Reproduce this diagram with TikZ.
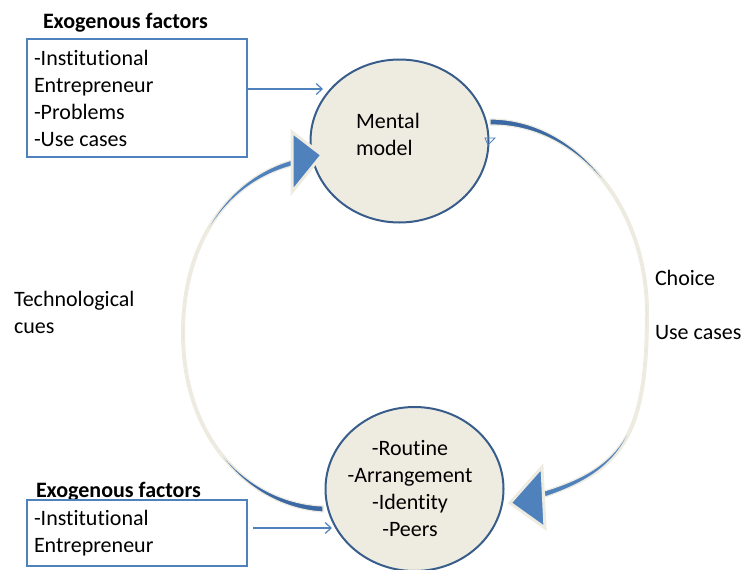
\documentclass[tikz,border=0pt]{standalone}
\usepackage{fontspec}
\setmainfont{Carlito}[Ligatures=NoCommon]
\usetikzlibrary{shapes.geometric,arrows.meta}
\definecolor{cream}{HTML}{EEECE1}
\definecolor{edge}{HTML}{385D8A}
\definecolor{ofblue}{HTML}{4F81BD}
\definecolor{darkband}{HTML}{3C68A4}
\begin{document}
\begin{tikzpicture}[x=1pt,y=-1pt,
  every node/.style={inner sep=0pt, outer sep=0pt},
  txt/.style={font=\fontsize{22}{27}\selectfont, align=left, anchor=base west},
  ctxt/.style={font=\fontsize{22}{27}\selectfont, align=center, anchor=base},
  hdr/.style={font=\fontsize{22}{27}\selectfont\bfseries, anchor=base west},
  box/.style={draw=ofblue, line width=1.2pt, rectangle, anchor=north west},
  oval/.style={ellipse, draw=edge, fill=cream, line width=2pt},
  thinarrow/.style={draw=ofblue, line width=1.2pt, -{Straight Barb[length=6pt,width=11pt]}},
  creamline/.style={draw=cream, line width=4pt},
  bandfill/.style={draw=cream, line width=1.2pt},
  bighead/.style={fill=ofblue, draw=cream, line width=3pt, line join=miter}]
\useasboundingbox (0,0) rectangle (744,570);
\clip (0,0) rectangle (744,570);

% boxes and headings (multi-line text nodes anchored at last baseline)
\node[hdr] (h1) at (43,28) {Exogenous factors};
\node[box, minimum width=220pt, minimum height=118pt] (b1) at (27,39) {};
\node[txt] (b1t) at (34,146) {-Institutional\\Entrepreneur\\-Problems\\-Use cases};

\node[hdr] (h2) at (36,497) {Exogenous factors};
\node[box, minimum width=220pt, minimum height=66pt] (b2) at (27,500) {};
\node[txt] (b2t) at (34,552) {-Institutional\\Entrepreneur};

% ellipses
\node[oval, minimum width=178pt, minimum height=163pt] (mm) at (399.5,141) {};
\node[oval, minimum width=178pt, minimum height=164pt] (rt) at (414.5,489) {};

% thin arrows
\coordinate (a1end) at (323,89);
\coordinate (a2start) at (253,528);
\coordinate (a2end) at (332,528);
\draw[thinarrow] (b1.east |- a1end) -- (a1end);
\draw[thinarrow] (a2start) -- (a2end);
\draw[ofblue, line width=0.8pt] (485,138) -- (495,138) -- (488,145) -- cycle;

% right curved arrow
\draw[creamline] (490,122) .. controls (577,122) and (647,207) .. (647,313)
  .. controls (647,430) and (625,470) .. (545,495);
\filldraw[bandfill, fill=darkband] (490,119) .. controls (577,119) and (647,207) .. (647,313)
  .. controls (647,207) and (577,124) .. (490,125) -- cycle;
\filldraw[bandfill, fill=ofblue] (647,313) .. controls (647,430) and (625,470) .. (545,497)
  -- (544,491) .. controls (623,467) and (647,430) .. (647,313) -- cycle;
\filldraw[bighead] (510,503) -- (542,467) -- (545,528) -- cycle;

% left curved arrow
\draw[creamline] (323,509) .. controls (250,505) and (183,440) .. (183,333)
  .. controls (183,240) and (230,180) .. (292,163);
\filldraw[bandfill, fill=darkband] (323,506) .. controls (250,503) and (183,440) .. (183,333)
  .. controls (183,440) and (250,508) .. (323,512) -- cycle;
\filldraw[bandfill, fill=ofblue] (183,333) .. controls (183,240) and (229,178) .. (292,160)
  -- (292,166) .. controls (231,182) and (183,240) .. (183,333) -- cycle;
\filldraw[bighead] (322,155) -- (292,132) -- (292,192) -- cycle;

% texts
\node[txt] (mmt) at (356,155) {Mental\\model};
\node[ctxt] (rtt) at (410,536) {-Routine\\-Arrangement\\-Identity\\-Peers};
\node[txt] (tc) at (14,333) {Technological\\cues};
\node[txt] (ch) at (655,285) {Choice};
\node[txt] (uc) at (655,339) {Use cases};
\end{tikzpicture}
\end{document}
